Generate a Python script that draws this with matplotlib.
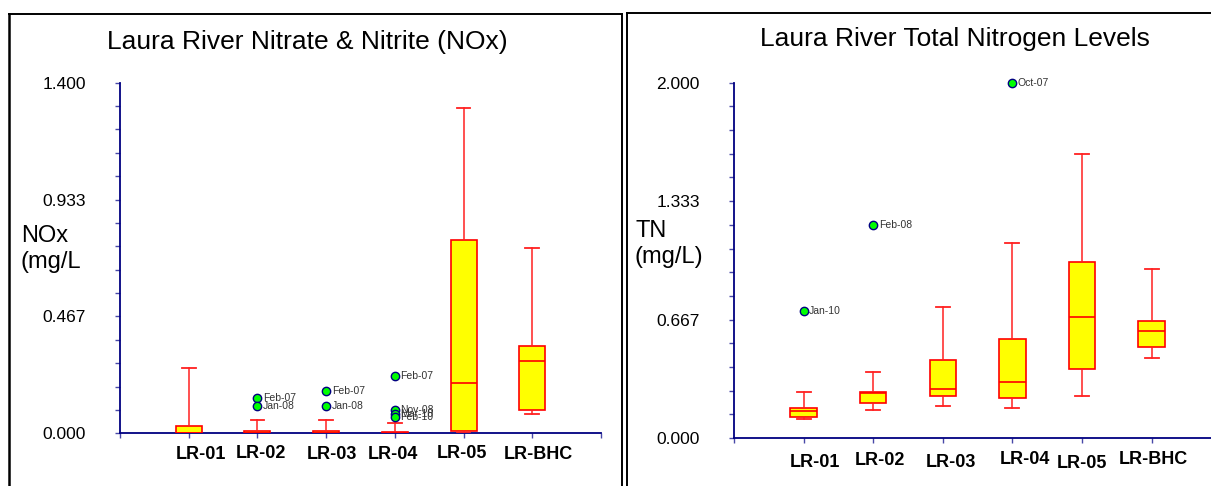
import numpy as np
import matplotlib
matplotlib.use("Agg")
import matplotlib.pyplot as plt
from matplotlib.ticker import FixedLocator, FormatStrFormatter

plt.rcParams['font.family'] = ['Liberation Sans', 'DejaVu Sans']

# ---- data ----
sites = ['LR-01', 'LR-02', 'LR-03', 'LR-04', 'LR-05', 'LR-BHC']

nox_whislo = [0.0, 0.0, 0.0, 0.0, 0.0, 0.076]
nox_q1 = [0.0, 0.0, 0.0, 0.0, 0.010, 0.092]
nox_med = [0.002, 0.002, 0.002, 0.002, 0.200, 0.287]
nox_q3 = [0.029, 0.009, 0.009, 0.005, 0.772, 0.347]
nox_whishi = [0.261, 0.052, 0.052, 0.041, 1.300, 0.740]
nox_out_site = [1, 1, 2, 2, 3, 3, 3, 3]
nox_out_val = [0.142, 0.110, 0.170, 0.110, 0.230, 0.093, 0.077, 0.066]
nox_out_label = ['Feb-07', 'Jan-08', 'Feb-07', 'Jan-08', 'Feb-07', 'Nov-08', 'Mar-10', 'Feb-10']

tn_whislo = [0.107, 0.158, 0.178, 0.167, 0.238, 0.449]
tn_q1 = [0.120, 0.195, 0.236, 0.223, 0.387, 0.511]
tn_med = [0.150, 0.254, 0.274, 0.314, 0.683, 0.601]
tn_q3 = [0.167, 0.257, 0.439, 0.557, 0.989, 0.659]
tn_whishi = [0.261, 0.370, 0.739, 1.099, 1.599, 0.950]
tn_out_site = [0, 1, 3]
tn_out_val = [0.717, 1.199, 2.000]
tn_out_label = ['Jan-10', 'Feb-08', 'Oct-07']

W, H = 1211, 486
fig = plt.figure(figsize=(W / 100, H / 100), dpi=100)


def fx(p):
    return p / W


def fy(p):
    return 1 - p / H


def draw_panel(ax, ymax, whislo, q1, med, q3, whishi, out_site, out_val, out_label,
               lab_dx, lab_dy):
    pos = np.arange(1, len(sites) + 1)
    stats = []
    for i in range(len(sites)):
        stats.append(dict(whislo=whislo[i], q1=q1[i], med=med[i], q3=q3[i],
                          whishi=whishi[i], fliers=[]))
    ax.bxp(stats, positions=pos, widths=0.38, capwidths=0.2, patch_artist=True,
           showfliers=False, zorder=3,
           boxprops=dict(facecolor='#ffff00', edgecolor='#ff0000', linewidth=1.2),
           medianprops=dict(color='#ff0000', linewidth=1.2),
           whiskerprops=dict(color='#ff2020', linewidth=1.1),
           capprops=dict(color='#ff2020', linewidth=1.3))
    xs = [pos[s] for s in out_site]
    ax.plot(xs, out_val, 'o', ms=6, mfc='#00ff00', mec='#000080', mew=1.0,
            ls='none', zorder=5, clip_on=False)
    for x, v, t in zip(xs, out_val, out_label):
        ax.annotate(t, (x, v), xytext=(4, 0), textcoords='offset points',
                    fontsize=7.5, color='#333333', va='center', ha='left',
                    annotation_clip=False)

    ax.set_ylim(0, ymax)
    ax.yaxis.set_major_locator(FixedLocator(np.linspace(0, ymax, 4)))
    ax.yaxis.set_minor_locator(FixedLocator(np.linspace(0, ymax, 16)))
    ax.yaxis.set_major_formatter(FormatStrFormatter('%.3f'))
    ax.set_xlim(0, 7)
    ax.set_xticks(range(8))
    ax.set_xticklabels([''] * 8)
    for s in ['top', 'right']:
        ax.spines[s].set_visible(False)
    for s in ['left', 'bottom']:
        ax.spines[s].set_color('#000080')
        ax.spines[s].set_linewidth(1.3)
    ax.tick_params(axis='y', which='both', direction='out', length=3.6, width=1,
                   color='#4848a8', labelsize=12.5, pad=21)
    ax.tick_params(axis='x', direction='out', length=3.6, width=1, color='#4848a8')
    ax.patch.set_visible(False)

    for i, name in enumerate(sites):
        ax.annotate(name, (pos[i] + lab_dx[i], 0), xycoords=('data', 'axes fraction'),
                    xytext=(0, -lab_dy[i]), textcoords='offset points',
                    ha='center', va='center', fontsize=13, fontweight='bold',
                    annotation_clip=False)


# left panel: NOx
ax1 = fig.add_axes([fx(120), fy(433.3), fx(601 - 120), (433.3 - 82.7) / H])
draw_panel(ax1, 1.4, nox_whislo, nox_q1, nox_med, nox_q3, nox_whishi,
           nox_out_site, nox_out_val, nox_out_label,
           lab_dx=[0.18, 0.05, 0.09, -0.03, -0.03, 0.09],
           lab_dy=[15.6, 14.4, 15.6, 15.6, 14.4, 15.6])

# right panel: TN
ax2 = fig.add_axes([fx(734), fy(438), fx(7 * 69.6), (438 - 82.7) / H])
draw_panel(ax2, 2.0, tn_whislo, tn_q1, tn_med, tn_q3, tn_whishi,
           tn_out_site, tn_out_val, tn_out_label,
           lab_dx=[0.16, 0.10, 0.12, 0.18, 0.0, 0.02],
           lab_dy=[17.8, 16.3, 17.8, 15.3, 18.2, 15.3])

# titles and y labels
fig.text(fx(307.5), fy(41.7), 'Laura River Nitrate & Nitrite (NOx)',
         ha='center', va='center', fontsize=19)
fig.text(fx(955), fy(39.3), 'Laura River Total Nitrogen Levels',
         ha='center', va='center', fontsize=19)
fig.text(fx(21), fy(249), 'NOx\n(mg/L', ha='left', va='center', fontsize=17,
         linespacing=1.2)
fig.text(fx(635), fy(244), 'TN\n(mg/L)', ha='left', va='center', fontsize=17,
         linespacing=1.2)

# panel frames
frame = dict(color='black', transform=fig.transFigure)
fig.add_artist(plt.Line2D([fx(8.5), fx(8.5)], [fy(14), 0], lw=1.8, **frame))
fig.add_artist(plt.Line2D([fx(8.5), fx(621.5)], [fy(14), fy(14)], lw=1.4, **frame))
fig.add_artist(plt.Line2D([fx(621.7), fx(621.7)], [fy(14), 0], lw=1.4, **frame))
fig.add_artist(plt.Line2D([fx(627), fx(627)], [fy(13.3), 0], lw=1.4, **frame))
fig.add_artist(plt.Line2D([fx(627), 1], [fy(13.3), fy(13.3)], lw=1.4, **frame))

fig.savefig('out.png', dpi=100)
